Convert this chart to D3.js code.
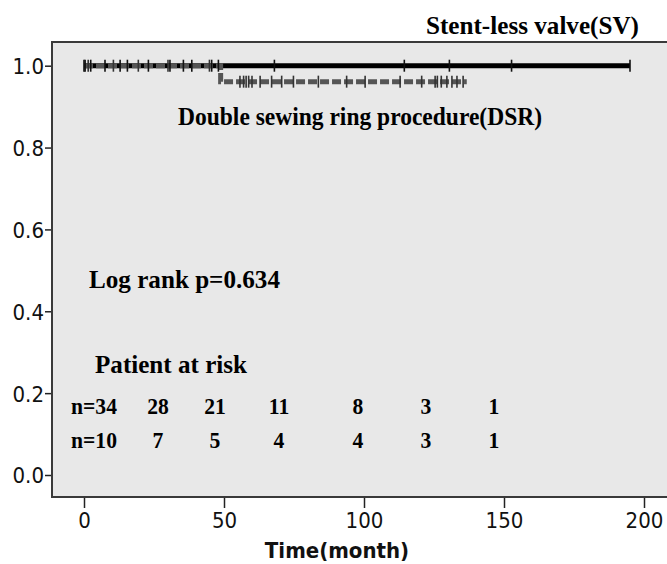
<!DOCTYPE html>
<html><head><meta charset="utf-8">
<script src="https://cdn.jsdelivr.net/npm/d3@7"></script>
<style>
html,body{margin:0;padding:0;background:#fff;}
svg{display:block;}
</style></head>
<body>
<svg id="c" width="667" height="564"></svg>
<script>
// ---- data ----
const xTicks = [0, 50, 100, 150, 200];
const yTicks = [0.0, 0.2, 0.4, 0.6, 0.8, 1.0];
// Stent-less valve (SV): steps [time, survival]
const svSteps = [[0, 1.0], [195, 1.0]];
const svCensor = [0, 0.4, 2.4, 7.5, 12.9, 15.5, 23, 30.7, 35.5, 38.5, 45.6, 48, 68, 114.4, 130.5, 152.7, 195];
// Double sewing ring (DSR)
const dsrSteps = [[0, 1.0], [48.8, 1.0], [48.8, 0.961], [136.7, 0.961]];
const dsrCensor1 = [1.5, 10.5, 19.4, 30, 44.8];          // at survival 1.0
const dsrCensor2 = [55.7, 57, 57.9, 58.8, 60, 62.9, 67, 70.6, 74.8, 83.7,
                    93.8, 100.4, 112.9, 120.6, 125.4, 126.2, 127.6, 129.6, 131.4, 133.2, 135.4]; // at 0.961
const dsrLevel2 = 0.961;
const riskSV  = ["n=34", "28", "21", "11", "8", "3", "1"];
const riskDSR = ["n=10", "7", "5", "4", "4", "3", "1"];
const labels = {
  sv: "Stent-less valve(SV)",
  dsr: "Double sewing ring procedure(DSR)",
  logrank: "Log rank p=0.634",
  risk: "Patient at risk",
  xTitle: "Time(month)"
};

// ---- layout ----
const svg = d3.select("#c");
const plot = {x: 52, y: 42, w: 650, h: 455};
const x = d3.scaleLinear().domain([0, 200]).range([84, 644]);
const y = d3.scaleLinear().domain([0, 1]).range([475, 65.7]);
const serif = "'Liberation Serif','Times New Roman',serif";
const sansC = "'DejaVu Sans Condensed','DejaVu Sans',sans-serif";

svg.append("rect").attr("x", plot.x).attr("y", plot.y)
  .attr("width", plot.w).attr("height", plot.h)
  .attr("fill", "#e8e8e8").attr("stroke", "#3a3a3a").attr("stroke-width", 2);

// axes
const yAxis = d3.axisLeft(y).tickValues(yTicks).tickFormat(d3.format(".1f")).tickSize(6).tickPadding(1);
const gy = svg.append("g").attr("transform", `translate(${plot.x - 1},0)`).call(yAxis);
gy.select(".domain").remove();
gy.selectAll("line").attr("stroke", "#222").attr("stroke-width", 1.5);
gy.selectAll("text").attr("font-family", sansC).style("font-stretch", "condensed")
  .attr("font-size", 22).attr("fill", "#111").attr("dy", "0.36em");

const xAxis = d3.axisBottom(x).tickValues(xTicks).tickFormat(d3.format("d")).tickSize(10).tickPadding(4);
const gx = svg.append("g").attr("transform", `translate(0,${plot.y + plot.h + 1})`).call(xAxis);
gx.select(".domain").remove();
gx.selectAll("line").attr("stroke", "#222").attr("stroke-width", 1.5);
gx.selectAll("text").attr("font-family", sansC).style("font-stretch", "condensed")
  .attr("font-size", 22).attr("fill", "#111");

svg.append("text").attr("x", 337).attr("y", 558).attr("text-anchor", "middle")
  .attr("font-family", sansC).style("font-stretch", "condensed")
  .attr("font-weight", "bold").attr("font-size", 22).attr("fill", "#111")
  .text(labels.xTitle);

// curves
const line = d3.line().x(d => x(d[0])).y(d => y(d[1]));
svg.append("path").attr("d", line(svSteps)).attr("fill", "none")
  .attr("stroke", "#000").attr("stroke-width", 5);
svg.append("path").attr("d", line(dsrSteps)).attr("fill", "none")
  .attr("stroke", "#555").attr("stroke-width", 5)
  .attr("stroke-dasharray", "9,3");

function censor(times, level, color) {
  svg.append("g").selectAll("line").data(times).join("line")
    .attr("x1", d => x(d)).attr("x2", d => x(d))
    .attr("y1", y(level) - 6).attr("y2", y(level) + 6)
    .attr("stroke", color).attr("stroke-width", 1.6);
}
censor(svCensor, 1.0, "#111");
censor(dsrCensor1, 1.0, "#333");
censor(dsrCensor2, dsrLevel2, "#333");

// text labels
function label(t, xx, yy, w, size) {
  svg.append("text").attr("x", xx).attr("y", yy)
    .attr("font-family", serif).attr("font-weight", "bold")
    .attr("font-size", size).attr("fill", "#000")
    .attr("textLength", w).attr("lengthAdjust", "spacingAndGlyphs")
    .text(t);
}
label(labels.sv, 426, 34, 213, 26);
label(labels.dsr, 178, 125, 364, 26);
label(labels.logrank, 89, 288, 191, 26);
label(labels.risk, 95, 373, 152, 26);

const riskX = [94, 158, 215, 279, 358, 426, 494];
function riskRow(vals, yy) {
  svg.append("g").selectAll("text").data(vals).join("text")
    .attr("x", (d, i) => riskX[i]).attr("y", yy)
    .attr("text-anchor", "middle")
    .attr("font-family", serif).attr("font-weight", "bold")
    .attr("font-size", 24).attr("fill", "#000")
    .text(d => d)
    .each(function() {
      const L = this.getComputedTextLength();
      d3.select(this).attr("textLength", L * 0.9).attr("lengthAdjust", "spacingAndGlyphs");
    });
}
riskRow(riskSV, 414);
riskRow(riskDSR, 448);
</script>
</body></html>
